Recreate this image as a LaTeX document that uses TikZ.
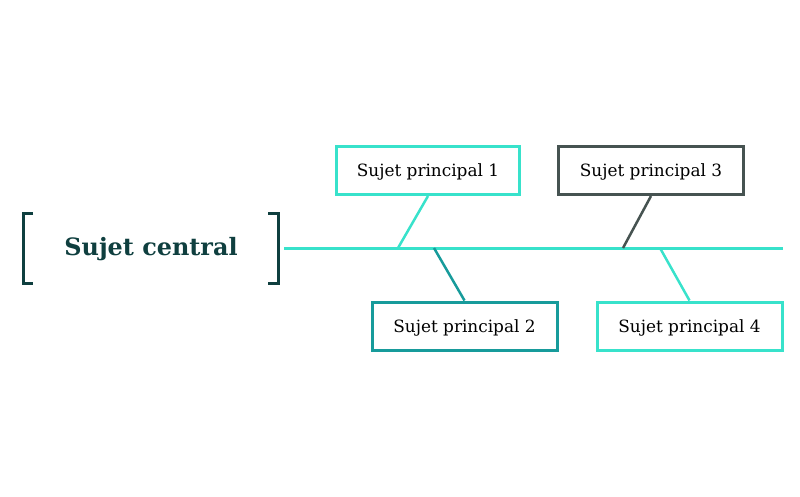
\documentclass[tikz,border=0pt]{standalone}
\usepackage{fontspec}
\setmainfont{DejaVu Serif}
\definecolor{turq}{HTML}{38E2CB}
\definecolor{teal}{HTML}{179B9B}
\definecolor{slate}{HTML}{465351}
\definecolor{deep}{HTML}{0F3F3F}
\tikzset{
  sujet/.style={draw, line width=3pt, fill=white, minimum width=183pt, minimum height=48pt,
    inner sep=0pt, text depth=0pt, font=\fontsize{16.9}{19}\selectfont},
  branche/.style={line width=2.5pt}
}
\begin{document}
\begin{tikzpicture}[x=1pt, y=-1pt]
  \useasboundingbox (0,0) rectangle (800,496);

  %% central
  \node[text=deep, font=\fontsize{23.9}{27}\selectfont\bfseries] (central) at (151,249) {Sujet central};
  \draw[deep, line width=3pt] (33,213) -- (23,213) -- (23,283) -- (33,283);
  \draw[deep, line width=3pt] (268,213) -- (278,213) -- (278,283) -- (268,283);

  %% spine
  \coordinate (spineL) at (284,248);
  \coordinate (spineR) at (783,248);
  \draw[turq, line width=3pt] (spineL) -- (spineR);

  \coordinate (p1) at (398,248);
  \coordinate (p2) at (434,248);
  \coordinate (p3) at (623,248);
  \coordinate (p4) at (660,248);

  %% boxes
  \node[sujet, draw=turq] (s1) at (428,170.5) {Sujet principal 1};
  \node[sujet, draw=teal, minimum width=185pt] (s2) at (464.5,326) {Sujet principal 2};
  \node[sujet, draw=slate, minimum width=185pt] (s3) at (651,170.5) {Sujet principal 3};
  \node[sujet, draw=turq, minimum width=185pt] (s4) at (689.5,326) {Sujet principal 4};

  %% branches
  \draw[branche, turq] (s1.south) -- (p1);
  \draw[branche, teal] (p2) -- (s2.north);
  \draw[branche, slate] (s3.south) -- (p3);
  \draw[branche, turq] (p4) -- (s4.north);
\end{tikzpicture}
\end{document}
